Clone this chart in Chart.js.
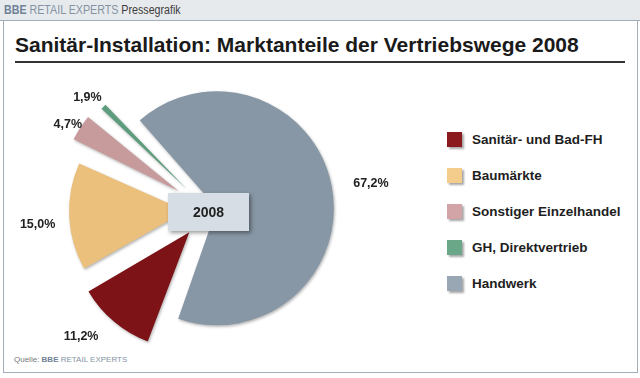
<!DOCTYPE html>
<html><head><meta charset="utf-8">
<script src="https://cdn.jsdelivr.net/npm/chart.js@4.4.0/dist/chart.umd.min.js"></script>
<style>
html,body{margin:0;padding:0;background:#fff;}
#wrap{position:relative;width:640px;height:378px;overflow:hidden;background:#fff;font-family:"Liberation Sans",Arial,sans-serif;}
#hdr{position:absolute;left:0;top:0;width:640px;height:20px;background:#e7eaed;border-bottom:1px solid #a4aeb8;}
#hdrt{position:absolute;left:4px;top:3px;font-size:12px;white-space:nowrap;transform:scaleX(0.89);transform-origin:0 0;}
#box{position:absolute;left:3px;top:21px;width:633px;height:351px;border-left:1px solid #a4aeb8;border-right:1px solid #a4aeb8;border-bottom:1px solid #a4aeb8;}
#title{position:absolute;left:15px;top:34px;font-weight:bold;font-size:21px;line-height:1;color:#1a1a1a;white-space:nowrap;}
#rule{position:absolute;left:15px;top:61px;width:610px;height:0;border-top:2px solid #333;}
#src{position:absolute;left:14px;top:355px;font-size:8px;color:#777;white-space:nowrap;}
#chart{position:absolute;left:0;top:0;width:420px;height:378px;}
.lg{position:absolute;left:447px;height:16px;font-weight:bold;font-size:13.5px;color:#1e1e1e;white-space:nowrap;}
.lg i{position:absolute;left:0;top:0;width:15px;height:15px;box-shadow:2px 2px 2px rgba(0,0,0,0.35);}
.lg b{position:absolute;left:25px;top:0;line-height:15px;}
</style></head>
<body><div id="wrap">
<div id="hdr"><div id="hdrt"><b style="color:#6f8196">BBE</b> <span style="color:#8493a4">RETAIL EXPERTS</span> <span style="color:#3c3c3c">Pressegrafik</span></div></div>
<div id="box"></div>
<div id="title">Sanitär-Installation: Marktanteile der Vertriebswege 2008</div>
<div id="rule"></div>
<div id="src">Quelle: <b style="color:#6f8196">BBE</b> <span style="color:#8493a4">RETAIL EXPERTS</span></div>
<div id="legend"></div>
<canvas id="chart" width="420" height="378"></canvas>
</div>
<script>
const categories = ['Sanitär- und Bad-FH', 'Baumärkte', 'Sonstiger Einzelhandel', 'GH, Direktvertrieb', 'Handwerk'];
const shares = [11.2, 15.0, 4.7, 1.9, 67.2];
const year = '2008';

const colors = ['#7d1316', '#ebbf7c', '#c79a9c', '#5e9c7e', '#8797a5'];
const legendColors = ['#8a1a1e', '#f4cd8c', '#d2a4a7', '#69a788', '#99a6b3'];
const offsets = [116, 88, 140, 120, 36];
const labelGap = [33, 32, 12, 18, 39];
const labelTurn = [6, -2.5, -2, -2, 2];
const RADIUS = 117;

// legend
const lg = document.getElementById('legend');
categories.forEach((c, i) => {
  const d = document.createElement('div');
  d.className = 'lg';
  d.style.top = (132 + i * 36) + 'px';
  d.innerHTML = '<i style="background:' + legendColors[i] + '"></i><b>' + c + '</b>';
  lg.appendChild(d);
});

const fmt = v => v.toFixed(1).replace('.', ',') + '%';

const fixRadius = {
  id: 'fixRadius',
  afterDatasetUpdate(chart, args) {
    args.meta.data.forEach(el => {
      const off = (el.options.offset || 0) / 4;
      const fix = 1 - Math.sin(Math.min(Math.PI, el.circumference));
      el.outerRadius = RADIUS - off * fix;
    });
  }
};

const shadow = {
  id: 'shadow',
  beforeDatasetsDraw(chart) {
    const ctx = chart.ctx;
    ctx.save();
    ctx.shadowColor = 'rgba(0,0,0,0.3)';
    ctx.shadowBlur = 3;
    ctx.shadowOffsetX = 1;
    ctx.shadowOffsetY = 1.5;
  },
  afterDatasetsDraw(chart) {
    const ctx = chart.ctx;
    ctx.restore();
    const meta = chart.getDatasetMeta(0);
    ctx.save();
    ctx.font = 'bold 12.5px "Liberation Sans", Arial, sans-serif';
    ctx.fillStyle = '#222';
    ctx.textAlign = 'center';
    ctx.textBaseline = 'middle';
    meta.data.forEach((el, i) => {
      const mid = (el.startAngle + el.endAngle) / 2;
      const t = (el.options.offset || 0) / 4;
      const cx = el.x + Math.cos(mid) * t;
      const cy = el.y + Math.sin(mid) * t;
      const r = RADIUS + labelGap[i];
      const a = mid + labelTurn[i] * Math.PI / 180;
      ctx.fillText(fmt(shares[i]), cx + Math.cos(a) * r, cy + Math.sin(a) * r);
    });
    // centre box
    const x0 = meta.data[0].x, y0 = meta.data[0].y + 2;
    ctx.shadowColor = 'rgba(0,0,0,0.4)';
    ctx.shadowBlur = 4;
    ctx.shadowOffsetX = 2;
    ctx.shadowOffsetY = 2;
    ctx.fillStyle = '#d6dde4';
    ctx.fillRect(x0 - 40, y0 - 19, 81, 38);
    ctx.shadowColor = 'transparent';
    ctx.fillStyle = '#222';
    ctx.font = 'bold 14px "Liberation Sans", Arial, sans-serif';
    ctx.fillText(year, x0 + 0.5, y0 + 1);
    ctx.restore();
  }
};

new Chart(document.getElementById('chart'), {
  type: 'pie',
  data: {
    labels: categories,
    datasets: [{
      data: shares,
      backgroundColor: colors,
      borderWidth: 0,
      offset: offsets
    }]
  },
  options: {
    responsive: false,
    animation: false,
    rotation: 200,
    radius: RADIUS,
    layout: { padding: { left: 0, right: 4, top: 60, bottom: 18 } },
    plugins: { legend: { display: false }, tooltip: { enabled: false } }
  },
  plugins: [fixRadius, shadow]
});
</script>
</body></html>
